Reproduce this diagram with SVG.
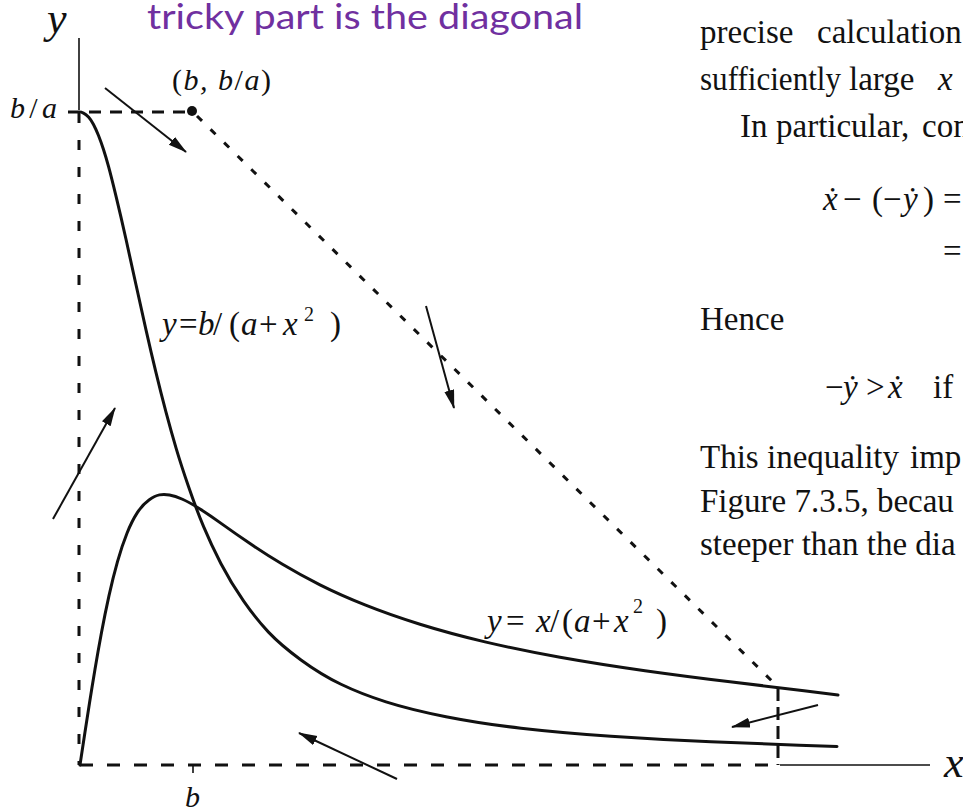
<svg xmlns="http://www.w3.org/2000/svg" width="963" height="809" viewBox="0 0 963 809">
<style>
.curve{fill:none;stroke:#111;stroke-width:3;stroke-linejoin:round;stroke-linecap:round}
.dash{fill:none;stroke:#111;stroke-width:3}
.solid{fill:none;stroke:#111;stroke-width:1.6}
.arrow{fill:none;stroke:#111;stroke-width:2;marker-end:url(#ah)}
.math{font-family:"Liberation Serif","DejaVu Serif",serif;font-style:italic;fill:#111}
.up{font-style:normal}
.body{font-family:"Liberation Serif","DejaVu Serif",serif;font-size:33px;fill:#111}
.title{font-family:Lato,"Open Sans",sans-serif;font-size:34px;fill:#7030A0}
</style>
<defs>
<marker id="ah" markerUnits="userSpaceOnUse" markerWidth="20" markerHeight="12" refX="18" refY="5" orient="auto">
<path d="M0,0 L19,5 L0,10 z" fill="#111"/>
</marker>
</defs>
<rect width="963" height="809" fill="#fff"/>

<text id="title" class="title" x="147" y="29" textLength="436" lengthAdjust="spacingAndGlyphs">tricky part is the diagonal</text>

<g id="axes">
<line class="solid" x1="79" y1="38" x2="79" y2="110"/>
<line class="dash" x1="79" y1="113" x2="79" y2="765" stroke-dasharray="10 17"/>
<line class="dash" x1="68" y1="112" x2="188" y2="112" stroke-dasharray="12 9"/>
<line class="dash" x1="80" y1="765" x2="778" y2="765" stroke-dasharray="13 14"/>
<line class="solid" x1="780" y1="765" x2="930" y2="765"/>
<line class="solid" x1="193" y1="765" x2="193" y2="773"/>
<line class="dash" x1="778" y1="688" x2="778" y2="765" stroke-dasharray="13 6"/>
<line class="dash" x1="197" y1="116" x2="777" y2="686" stroke-width="4" stroke-dasharray="7 12"/>
<circle cx="192" cy="111" r="5" fill="#111"/>
<text class="math" x="47" y="33" font-size="44">y</text>
<text class="math" x="944" y="777" font-size="44">x</text>
<text class="math" x="185" y="807" font-size="30">b</text>
<text class="math" x="10" y="118" font-size="30" textLength="47">b<tspan class="up">/</tspan>a</text>
<text class="math" x="172" y="90" font-size="30" textLength="99"><tspan class="up">(</tspan>b, b<tspan class="up">/</tspan>a<tspan class="up">)</tspan></text>
</g>

<g id="nullcline-b">
<path class="curve" d="M81,112 L83.5,113.15 Q86,114.3 88.5,117 Q91,119.7 93.5,124.45 Q96,129.2 98.5,135.5 Q101,141.8 103.5,149.55 Q106,157.3 108.5,166.35 Q111,175.4 116,196.05 Q121,216.7 126,239.3 Q131,261.9 136,284.8 Q141,307.7 146,329.85 Q151,352 156,372.7 Q161,393.4 166,412.2 Q171,431 176,447.9 Q181,464.8 188.5,486.6 Q196,508.4 203.5,526.45 Q211,544.5 221,563.7 Q231,582.9 243.5,600.9 Q256,618.9 268.5,632.1 Q281,645.3 301,659.95 Q321,674.6 341,684.25 Q361,693.9 386,701.85 Q411,709.8 446,716.7 Q481,723.6 521,728.2 Q561,732.8 611,736.25 Q661,739.7 711,741.75 Q761,743.8 799,745.15 L837,746.5"/>
<text class="math" font-size="33" y="335"><tspan x="162">y</tspan><tspan class="up" x="179">=</tspan><tspan x="198">b</tspan><tspan class="up" x="213">/</tspan><tspan class="up" x="229">(</tspan><tspan x="241">a</tspan><tspan class="up" x="259">+</tspan><tspan x="283">x</tspan><tspan class="up" x="304" y="321" font-size="20">2</tspan><tspan class="up" x="330" y="335">)</tspan></text>
</g>

<g id="nullcline-x">
<path class="curve" d="M80,765 L81.5,755.05 Q83,745.1 85,732 Q87,718.9 89.5,703 Q92,687.1 95,669.2 Q98,651.3 101.5,632.5 Q105,613.7 109,595.6 Q113,577.5 117.5,561.6 Q122,545.7 127,533.25 Q132,520.8 137.5,512.45 Q143,504.1 149,499.9 Q155,495.7 159.5,494.85 Q164,494 169.5,494.95 Q175,495.9 182.5,499.25 Q190,502.6 200,509 Q210,515.4 222.5,524.35 Q235,533.3 250,543.55 Q265,553.8 282.5,564.3 Q300,574.8 320,584.85 Q340,594.9 365,604.9 Q390,614.9 420,624.25 Q450,633.6 485,641.85 Q520,650.1 560,657.25 Q600,664.4 645,670.7 Q690,677 730,681.75 Q770,686.5 804,690.75 L838,695"/>
<text class="math" font-size="33" y="632"><tspan x="487">y</tspan><tspan class="up" x="506">=</tspan><tspan x="536">x</tspan><tspan class="up" x="550">/</tspan><tspan class="up" x="562">(</tspan><tspan x="574">a</tspan><tspan class="up" x="592">+</tspan><tspan x="614">x</tspan><tspan class="up" x="633" y="613" font-size="20">2</tspan><tspan class="up" x="656" y="632">)</tspan></text>
</g>

<g id="connectors">
<line class="arrow" x1="105" y1="88" x2="186" y2="152"/>
<line class="arrow" x1="426" y1="306" x2="454" y2="408"/>
<line class="arrow" x1="53" y1="519" x2="115" y2="408"/>
<line class="arrow" x1="397" y1="779" x2="299" y2="733"/>
<line class="arrow" x1="818" y1="705" x2="732" y2="727"/>
</g>

<g id="text-block" class="body">
<text y="43"><tspan x="700">precise</tspan><tspan x="817">calculation</tspan></text>
<text x="700" y="90" textLength="141" lengthAdjust="spacingAndGlyphs">sufficiently</text>
<text y="90"><tspan x="849">large</tspan><tspan x="938" font-style="italic">x</tspan></text>
<text y="137"><tspan x="740">In</tspan><tspan x="776">particular,</tspan><tspan x="922">con</tspan></text>
<text y="210"><tspan x="823" font-style="italic">ẋ</tspan><tspan x="843">−</tspan><tspan x="872">(</tspan><tspan x="883">−</tspan><tspan x="903" font-style="italic">ẏ</tspan><tspan x="923">)</tspan><tspan x="943">=</tspan></text>
<text x="943" y="262">=</text>
<text x="700" y="330">Hence</text>
<text y="398"><tspan x="825">−</tspan><tspan x="843" font-style="italic">ẏ</tspan><tspan x="866">&gt;</tspan><tspan x="888" font-style="italic">ẋ</tspan><tspan x="933">if</tspan></text>
<text y="468"><tspan x="700">This</tspan><tspan x="767">inequality</tspan><tspan x="910">imp</tspan></text>
<text x="700" y="512">Figure 7.3.5, becau</text>
<text x="700" y="555">steeper than the dia</text>
</g>
</svg>
